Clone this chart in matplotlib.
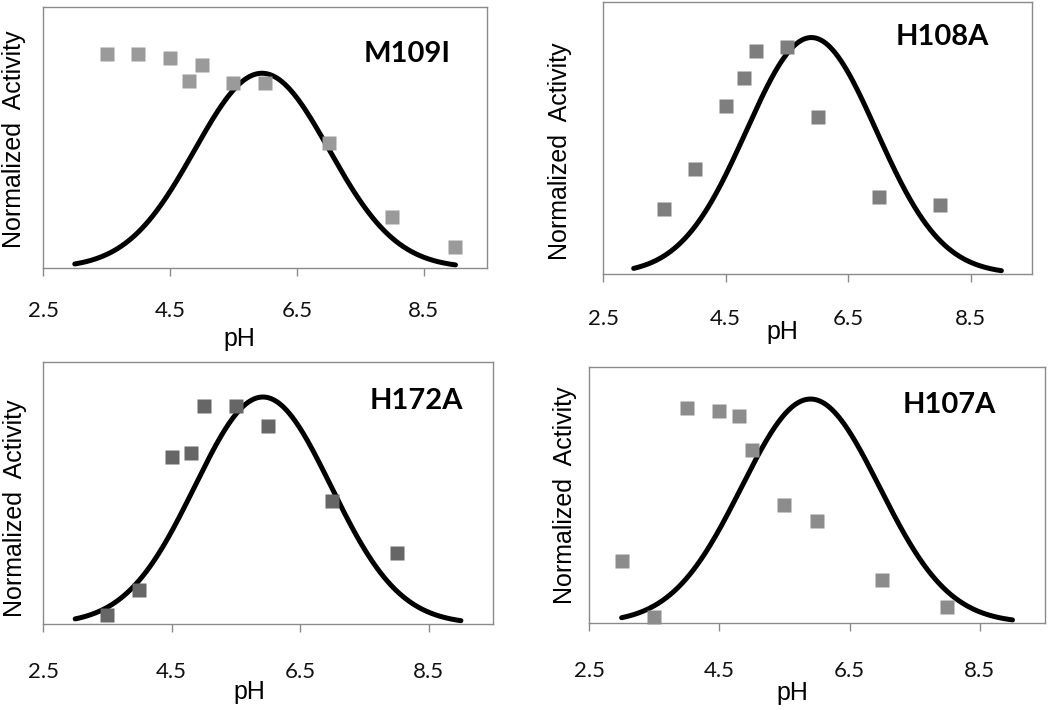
import numpy as np
import matplotlib
matplotlib.use('Agg')
import matplotlib.pyplot as plt

# mutant names (panel labels)
names = ['M109I', 'H108A', 'H172A', 'H107A']

# measured points (pH, normalized activity, peak of fit = 1)
ph_m109i = [3.5, 4.0, 4.5, 4.8, 5.0, 5.5, 6.0, 7.0, 8.0, 9.0]
act_m109i = [1.10, 1.10, 1.08, 0.96, 1.04, 0.95, 0.95, 0.64, 0.26, 0.11]

ph_h108a = [3.5, 4.0, 4.5, 4.8, 5.0, 5.5, 6.0, 7.0, 8.0]
act_h108a = [0.275, 0.445, 0.71, 0.83, 0.945, 0.96, 0.665, 0.326, 0.29]

ph_h172a = [3.5, 4.0, 4.5, 4.8, 5.0, 5.5, 6.0, 7.0, 8.0]
act_h172a = [0.04, 0.15, 0.736, 0.753, 0.96, 0.96, 0.872, 0.542, 0.313]

ph_h107a = [3.0, 3.5, 4.0, 4.5, 4.8, 5.0, 5.5, 6.0, 7.0, 8.0]
act_h107a = [0.277, 0.027, 0.96, 0.946, 0.924, 0.772, 0.527, 0.455, 0.192, 0.071]

# gaussian fit parameters (center pH, width)
fit_center = [5.95, 5.9, 5.92, 5.9]
fit_sigma = [1.06, 1.06, 1.06, 1.06]
fit_range = [3.0, 9.0]

xticks = [2.5, 4.5, 6.5, 8.5]
xticklabels = ['2.5', '4.5', '6.5', '8.5']

ph_all = [ph_m109i, ph_h108a, ph_h172a, ph_h107a]
act_all = [act_m109i, act_h108a, act_h172a, act_h107a]
marker_colors = ['#9a9a9a', '#7e7e7e', '#666666', '#8c8c8c']

# layout per panel: axes rect, ylim top, title pos, ylabel pos, pH pos, tick pad
rects = [[0.041, 0.6225, 0.423, 0.3676],
         [0.5743, 0.6141, 0.4086, 0.383],
         [0.041, 0.1211, 0.4286, 0.369],
         [0.561, 0.1225, 0.4343, 0.3606]]
ytops = [1.34, 1.15, 1.154, 1.143]
title_xy = [(0.82, 0.82), (0.79, 0.87), (0.83, 0.85), (0.79, 0.85)]
ylab_xy = [(-0.065, 0.494), (-0.10, 0.452), (-0.062, 0.44), (-0.053, 0.50)]
phlab_xy = [(0.443, -0.272), (0.417, -0.213), (0.459, -0.26), (0.447, -0.273)]
pads = [18, 19, 21, 21]

fig = plt.figure(figsize=(10.5, 7.1), dpi=100)

for i in range(4):
    ax = fig.add_axes(rects[i])
    xs = np.linspace(fit_range[0], fit_range[1], 300)
    ys = np.exp(-(xs - fit_center[i]) ** 2 / (2 * fit_sigma[i] ** 2))
    ax.plot(xs, ys, color='black', lw=3.6, solid_capstyle='round', zorder=2)
    ax.plot(ph_all[i], act_all[i], 's', color=marker_colors[i], ms=9.5,
            mec='none', zorder=3, clip_on=False)
    ax.set_xlim(2.5, 9.5)
    ax.set_ylim(0, ytops[i])
    ax.set_xticks(xticks)
    ax.set_xticklabels(xticklabels, family='Lato', fontsize=16, color='#111111')
    ax.set_yticks([])
    ax.tick_params(axis='x', direction='out', length=6, width=1,
                   color='#8a8a8a', pad=pads[i])
    for s in ax.spines.values():
        s.set_color('#8a8a8a')
        s.set_linewidth(1)
    ax.text(title_xy[i][0], title_xy[i][1], names[i], transform=ax.transAxes,
            ha='center', va='center', family='Lato', fontweight='bold',
            fontsize=21)
    ax.text(ylab_xy[i][0], ylab_xy[i][1], 'Normalized  Activity',
            transform=ax.transAxes, rotation=90, ha='center', va='center',
            family='Liberation Sans', fontsize=18)
    ax.text(phlab_xy[i][0], phlab_xy[i][1], 'pH', transform=ax.transAxes,
            ha='center', va='center', family='Liberation Sans', fontsize=18)

fig.savefig('out.png', dpi=100)
